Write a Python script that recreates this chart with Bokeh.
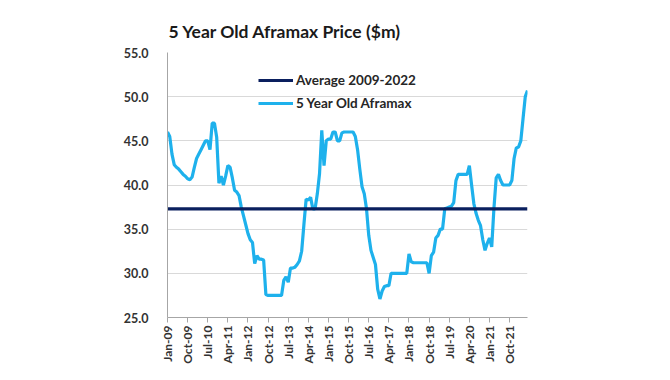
from bokeh.plotting import figure
from bokeh.models import (Range1d, FixedTicker, NumeralTickFormatter, Legend, LegendItem)
from bokeh.embed import file_html
from bokeh.resources import INLINE
import math

# ---- data ----
tick_labels = ["Jan-09", "Oct-09", "Jul-10", "Apr-11", "Jan-12", "Oct-12", "Jul-13",
               "Apr-14", "Jan-15", "Oct-15", "Jul-16", "Apr-17", "Jan-18", "Oct-18",
               "Jul-19", "Apr-20", "Jan-21", "Oct-21"]
tick_step_months = 9

price = [
    46.0, 45.5, 43.5, 42.3, 42.0, 41.8, 41.5, 41.2, 41.0, 40.7,
    40.6, 40.9, 42.0, 43.0, 43.5, 44.0, 44.5, 45.0, 45.0, 44.0,
    47.0, 47.0, 45.4, 40.2, 41.0, 40.0, 41.0, 42.2, 42.0, 40.8,
    39.4, 39.2, 38.8, 37.5, 36.5, 35.5, 34.5, 33.8, 33.5, 31.1,
    32.0, 31.6, 31.6, 31.5, 27.6, 27.5, 27.5, 27.5, 27.5, 27.5,
    27.5, 27.5, 29.2, 29.6, 29.0, 30.6, 30.6, 30.7, 31.0, 31.4,
    32.5, 35.5, 38.4, 38.3, 38.6, 37.3, 37.3, 39.0, 41.3, 46.2,
    42.2, 45.0, 45.2, 45.2, 46.0, 46.0, 45.0, 45.0, 45.9, 46.0,
    46.0, 46.0, 46.0, 46.0, 45.5, 44.0, 41.8, 39.8, 39.0, 37.3,
    34.3, 32.6, 31.8, 31.0, 28.2, 27.1, 28.0, 28.5, 28.6, 28.6,
    30.0, 30.0, 30.0, 30.0, 30.0, 30.0, 30.0, 30.0, 32.2, 31.3,
    31.2, 31.2, 31.2, 31.2, 31.2, 31.2, 31.2, 30.0, 32.0, 32.4,
    34.0, 34.3, 35.0, 35.0, 37.3, 37.4, 37.5, 37.6, 38.0, 40.5,
    41.2, 41.2, 41.2, 41.2, 41.2, 42.2, 40.0, 37.9, 36.8, 36.0,
    35.4, 33.8, 32.6, 33.4, 34.0, 33.0, 37.4, 40.8, 41.2, 40.5,
    40.0, 40.0, 40.0, 40.0, 40.5, 43.0, 44.2, 44.3, 45.0, 47.5,
    50.0, 50.7,
]
months = list(range(len(price)))  # months since Jan-09
average_2009_2022 = 37.3

# ---- figure ----
p = figure(width=662, height=372, output_backend="svg", toolbar_location=None,
           x_range=Range1d(months[0], months[-1]), y_range=Range1d(25, 55),
           min_border_left=167, min_border_right=135, min_border_top=52,
           min_border_bottom=55)
p.outline_line_color = None
p.background_fill_color = "white"
p.border_fill_color = "white"

p.title.text = "5 Year Old Aframax Price ($m)"
p.title.text_font = "Lato"
p.title.text_font_size = "17.5px"
p.title.text_font_style = "bold"
p.title.text_color = "#1a1a1a"
p.title.align = "left"
p.title.offset = 1
p.title.standoff = 22

blue = p.line(months, price, line_color="#1eb1ec", line_width=3.2)
avg = p.line([months[0], months[-1]], [average_2009_2022, average_2009_2022],
             line_color="#0a1f5e", line_width=3.2)

# axes
ya = p.yaxis[0]
ya.ticker = FixedTicker(ticks=[25, 30, 35, 40, 45, 50, 55])
ya.formatter = NumeralTickFormatter(format="0.0")
ya.major_tick_line_color = None
ya.minor_tick_line_color = None
ya.axis_line_color = "#a6a6a6"
ya.major_label_standoff = 13
ya.major_label_text_font = "Lato"
ya.major_label_text_font_size = "12.5px"
ya.major_label_text_font_style = "bold"
ya.major_label_text_color = "#333333"

xa = p.xaxis[0]
tick_pos = [i * tick_step_months for i in range(len(tick_labels))]
xa.ticker = FixedTicker(ticks=tick_pos)
xa.major_label_overrides = {t: lab for t, lab in zip(tick_pos, tick_labels)}
xa.major_label_orientation = math.pi / 2
xa.major_tick_in = 0
xa.major_tick_out = 5
xa.major_tick_line_color = "#a6a6a6"
xa.minor_tick_line_color = None
xa.axis_line_color = "#a6a6a6"
xa.major_label_standoff = 3
xa.major_label_text_font = "Lato"
xa.major_label_text_font_size = "12px"
xa.major_label_text_font_style = "bold"
xa.major_label_text_color = "#333333"

p.xgrid.grid_line_color = None
p.ygrid.grid_line_color = "#d9d9d9"
p.ygrid.grid_line_width = 1

# location tuple = bottom-left of legend, in px from the frame's bottom-left
legend = Legend(items=[LegendItem(label="Average 2009-2022", renderers=[avg]),
                       LegendItem(label="5 Year Old Aframax", renderers=[blue])],
                location=(91, 204), orientation="vertical")
legend.background_fill_alpha = 0
legend.border_line_color = None
legend.padding = 0
legend.margin = 0
legend.spacing = 3
legend.glyph_width = 35
legend.glyph_height = 20
legend.label_standoff = 3
legend.label_text_font = "Lato"
legend.label_text_font_size = "13.5px"
legend.label_text_font_style = "bold"
legend.label_text_color = "#262626"
p.add_layout(legend, "center")

open("out.html", "w").write(file_html(p, INLINE))
